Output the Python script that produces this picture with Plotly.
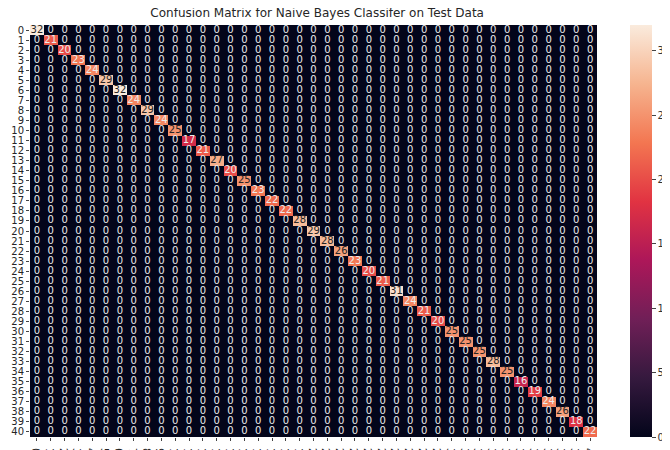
import numpy as np
import plotly.graph_objects as go

CLASSES = list(range(41))
DIAGONAL = [32, 21, 20, 23, 24, 29, 32, 24, 29, 24,
            25, 17, 21, 27, 20, 25, 23, 22, 22, 28,
            29, 28, 26, 23, 20, 21, 31, 24, 21, 20,
            25, 25, 25, 28, 25, 16, 19, 24, 26, 18,
            22]
CBAR_TICKS = [0, 5, 10, 15, 20, 25, 30]

ROCKET = [
    [0.0, "#03051a"],
    [0.143, "#35193e"],
    [0.286, "#701f57"],
    [0.429, "#ad1759"],
    [0.571, "#e13342"],
    [0.714, "#f37651"],
    [0.857, "#f6b48f"],
    [1.0, "#faebdd"],
]

matrix = np.diag(DIAGONAL)

fig = go.Figure(go.Heatmap(
    z=matrix,
    x=CLASSES,
    y=CLASSES,
    colorscale=ROCKET,
    zmin=0,
    zmax=max(DIAGONAL),
    hoverinfo="skip",
    colorbar=dict(
        x=1.058, xanchor="left", y=0.5, yanchor="middle",
        len=1, lenmode="fraction", thickness=22, ypad=0, xpad=0,
        outlinewidth=0,
        tickvals=CBAR_TICKS, ticks="outside", ticklen=4,
        tickfont=dict(size=10, color="#333333"),
    ),
))

# cell annotations, seaborn style: dark text on light cells
xx, yy = np.meshgrid(CLASSES, CLASSES)
vals = matrix.ravel()
colors = ["#262626" if v >= 25 else "#ececec" for v in vals]
fig.add_trace(go.Scatter(
    x=xx.ravel(), y=yy.ravel(), mode="text",
    text=[str(v) for v in vals],
    textfont=dict(size=10, color=colors, family="DejaVu Sans, sans-serif"),
    hoverinfo="skip", showlegend=False,
))

# page body adds an 8px offset, so the figure is 8px smaller than the window
fig.update_layout(
    width=662, height=442,
    margin=dict(l=22, r=73, t=17, b=13, autoexpand=False),
    plot_bgcolor="white", paper_bgcolor="white",
    font=dict(family="DejaVu Sans, sans-serif", color="#262626"),
    title=dict(text="Confusion Matrix for Naive Bayes Classifer on Test Data",
               x=0.467, xanchor="center", y=0.99, yanchor="middle",
               font=dict(size=12, color="#262626")),
)

fig.update_xaxes(tickvals=CLASSES, ticks="outside", ticklen=3, tickfont=dict(size=10),
                 showgrid=False, zeroline=False, showline=False, automargin=False,
                 range=[-0.5, 40.5])
fig.update_yaxes(tickvals=CLASSES, ticks="outside", ticklen=3, tickfont=dict(size=10),
                 showgrid=False, zeroline=False, showline=False, automargin=False,
                 range=[40.5, -0.5])

fig.write_html("out.html")
